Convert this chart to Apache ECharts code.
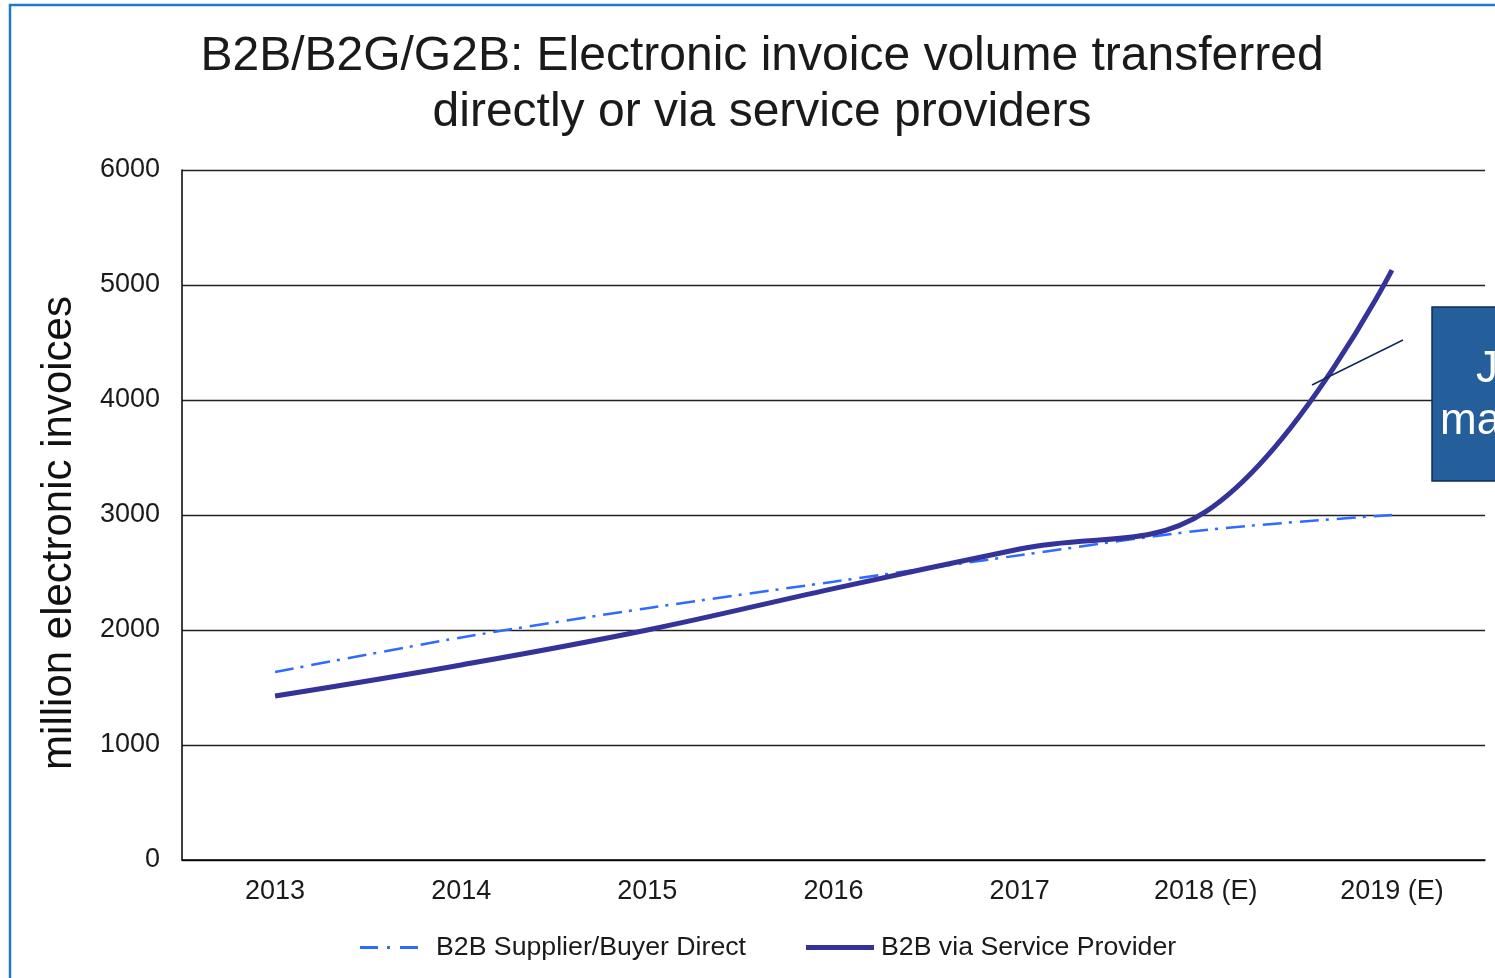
<!DOCTYPE html>
<html>
<head>
<meta charset="utf-8">
<script src="https://cdn.jsdelivr.net/npm/echarts@6/dist/echarts.min.js"></script>
<style>
html,body{margin:0;padding:0;background:#fff;}
#chart{width:1495px;height:978px;}
</style>
</head>
<body>
<div id="chart"></div>
<script>
const categories = ['2013', '2014', '2015', '2016', '2017', '2018 (E)', '2019 (E)'];
const directValues = [1635, 1935, 2190, 2420, 2650, 2870, 3000];
const providerValues = [1426, 1696, 2000, 2360, 2704, 3030, 5130];
const yTicks = [0, 1000, 2000, 3000, 4000, 5000, 6000];
const seriesNames = ['B2B Supplier/Buyer Direct', 'B2B via Service Provider'];
const titleText = 'B2B/B2G/G2B: Electronic invoice volume transferred\ndirectly or via service providers';
const yAxisName = 'million electronic invoices';

const chart = echarts.init(document.getElementById('chart'), null, {renderer: 'canvas'});
const FONT = '"Liberation Sans", Arial, sans-serif';
chart.setOption({
  backgroundColor: '#ffffff',
  animation: false,
  title: {
    text: titleText,
    left: 757,
    top: 24,
    textAlign: 'center',
    textStyle: {fontFamily: FONT, fontSize: 48, fontWeight: 'normal', color: '#1a1a1a', lineHeight: 56}
  },
  legend: [
    {
      data: [{name: seriesNames[0], icon: 'path://M0,0h18v3h-18z M27,0h3v3h-3z M40,0h18v3h-18z'}],
      left: 360, top: 934, padding: 0,
      itemWidth: 58, itemHeight: 3,
      textStyle: {fontFamily: FONT, fontSize: 26.7, color: '#1a1a1a', padding: [0, 0, 0, 13]}
    },
    {
      data: [{name: seriesNames[1], icon: 'path://M0,0h68v5h-68z'}],
      left: 806, top: 934, padding: 0,
      itemWidth: 68, itemHeight: 5,
      textStyle: {fontFamily: FONT, fontSize: 26.7, color: '#1a1a1a', padding: [0, 0, 0, 2]}
    }
  ],
  grid: {left: 182, top: 170, right: 10, bottom: 118, containLabel: false},
  xAxis: {
    type: 'category',
    data: categories,
    boundaryGap: true,
    axisLine: {lineStyle: {color: '#000', width: 1.5}},
    axisTick: {show: false},
    axisLabel: {fontFamily: FONT, fontSize: 27, color: '#1a1a1a', margin: 18},
    splitLine: {show: false}
  },
  yAxis: {
    type: 'value',
    min: yTicks[0], max: yTicks[yTicks.length - 1], interval: 1000,
    name: yAxisName,
    nameLocation: 'middle',
    nameGap: 102,
    nameTextStyle: {fontFamily: FONT, fontSize: 42, color: '#111', padding: [0, 36, 0, 0]},
    axisLine: {show: true, lineStyle: {color: '#000', width: 1.5}},
    axisTick: {show: false},
    axisLabel: {fontFamily: FONT, fontSize: 27, color: '#1a1a1a', margin: 22, formatter: function (v) { return String(v); }},
    splitLine: {show: true, lineStyle: {color: '#222', width: 1.3}}
  },
  series: [
    {
      name: seriesNames[0],
      type: 'line',
      data: directValues,
      smooth: 0.3,
      showSymbol: false,
      symbol: 'none',
      color: '#2F6BFF',
      lineStyle: {color: '#2F6BFF', width: 2.5, type: [19, 7, 3, 8]},
      z: 2
    },
    {
      name: seriesNames[1],
      type: 'line',
      data: providerValues,
      smooth: 0.4,
      showSymbol: false,
      symbol: 'none',
      color: '#33339A',
      lineStyle: {color: '#33339A', width: 5},
      z: 3
    }
  ],
  graphic: [
    {
      type: 'rect', z: 100,
      shape: {x: 10, y: 5, width: 1600, height: 1100},
      style: {fill: 'none', stroke: '#1E78D2', lineWidth: 2.5}
    },
    {
      type: 'line', z: 100,
      shape: {x1: 1312, y1: 385, x2: 1403, y2: 340},
      style: {stroke: '#0F2A5A', lineWidth: 1.5}
    },
    {
      type: 'rect', z: 100,
      shape: {x: 1432, y: 307, width: 120, height: 174},
      style: {fill: '#245E9B', stroke: '#0E2F55', lineWidth: 1.5}
    },
    {
      type: 'text', z: 101,
      style: {x: 1476, y: 370, text: 'J', fill: '#fff', font: '44px "Liberation Sans", Arial, sans-serif', verticalAlign: 'middle'}
    },
    {
      type: 'text', z: 101,
      style: {x: 1440, y: 422, text: 'ma', fill: '#fff', font: '44px "Liberation Sans", Arial, sans-serif', verticalAlign: 'middle'}
    }
  ]
});
</script>
</body>
</html>
